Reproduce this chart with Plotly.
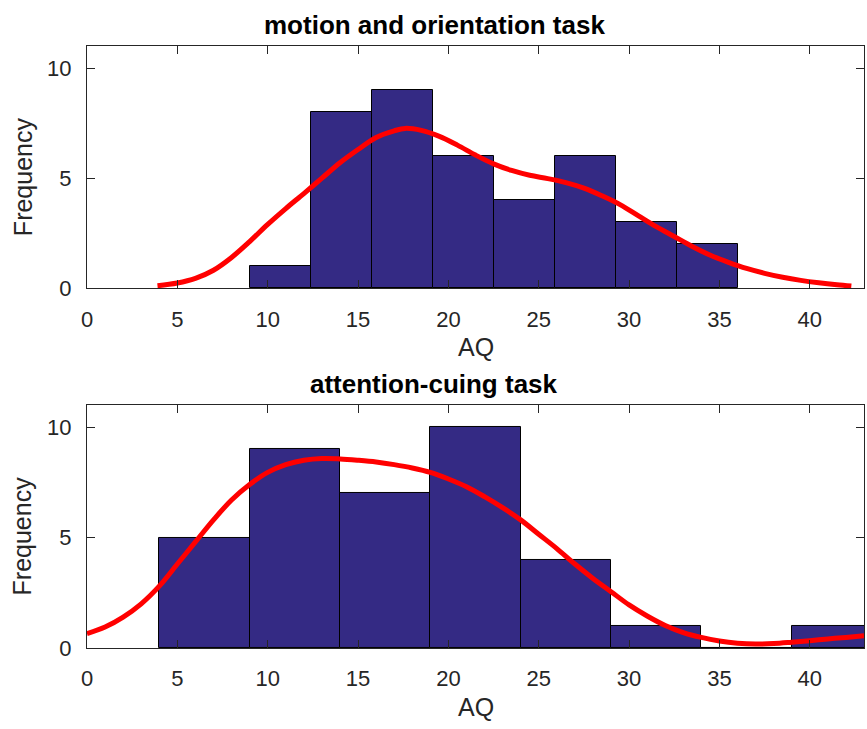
import plotly.graph_objects as go

# ---- data ----
top_title = "motion and orientation task"
bottom_title = "attention-cuing task"
x_label = "AQ"
y_label = "Frequency"

top_edges = [9.0, 12.375, 15.75, 19.125, 22.5, 25.875, 29.25, 32.625, 36.0]
top_counts = [1, 8, 9, 6, 4, 6, 3, 2]

bottom_edges = [4, 9, 14, 19, 24, 29, 34, 39, 44]
bottom_counts = [5, 9, 7, 10, 4, 1, 0, 1]

top_curve_x = [3.9, 5, 6, 7, 8, 9, 10, 11, 12, 13, 14, 15, 16, 17, 17.6, 18.5, 19.5,
               20.5, 21.5, 22.5, 23.5, 24.5, 25.5, 26.5, 27.5, 28.5, 29.5, 30.5, 31.5,
               32.5, 33.5, 34.5, 35.5, 36.5, 37.5, 38.5, 39.5, 40.5, 41.5, 42.3]
top_curve_y = [0.12, 0.24, 0.45, 0.82, 1.4, 2.12, 2.9, 3.62, 4.3, 5.0, 5.7, 6.3, 6.85, 7.15,
               7.26, 7.17, 6.9, 6.5, 6.05, 5.65, 5.35, 5.13, 4.98, 4.8, 4.55, 4.2, 3.8, 3.3,
               2.8, 2.35, 1.9, 1.5, 1.18, 0.9, 0.68, 0.5, 0.36, 0.25, 0.16, 0.1]

bottom_curve_x = [0, 1, 2, 3, 4, 5, 6, 7, 8, 9, 10, 11, 12, 13, 14, 15, 16, 17, 18, 19,
                  20, 21, 22, 23, 24, 25, 26, 27, 28, 29, 30, 31, 32, 33, 34, 35, 36, 37,
                  38, 39, 40, 41, 42, 43]
bottom_curve_y = [0.65, 0.95, 1.4, 2.0, 2.8, 3.8, 4.8, 5.8, 6.7, 7.4, 7.95, 8.3, 8.5, 8.58,
                  8.56, 8.5, 8.42, 8.3, 8.15, 7.95, 7.65, 7.3, 6.85, 6.35, 5.8, 5.15, 4.5,
                  3.8, 3.15, 2.55, 1.95, 1.45, 1.02, 0.7, 0.48, 0.32, 0.22, 0.18, 0.2, 0.26,
                  0.33, 0.41, 0.48, 0.55]

x_ticks = [0, 5, 10, 15, 20, 25, 30, 35, 40]
y_ticks = [0, 5, 10]

# ---- style ----
BAR_COLOR = "rgb(52,42,132)"
AXIS_COLOR = "#262626"
FONT = "Liberation Sans, Arial, sans-serif"

fig = go.Figure()


def add_hist(edges, counts, xa, ya):
    centers = [(edges[i] + edges[i + 1]) / 2 for i in range(len(counts))]
    widths = [edges[i + 1] - edges[i] for i in range(len(counts))]
    fig.add_trace(go.Bar(x=centers, y=counts, width=widths, xaxis=xa, yaxis=ya,
                         marker=dict(color=BAR_COLOR, line=dict(color="black", width=1)),
                         showlegend=False, hoverinfo="skip"))


def add_curve(cx, cy, xa, ya):
    fig.add_trace(go.Scatter(x=cx, y=cy, mode="lines", xaxis=xa, yaxis=ya,
                             line=dict(color="#ff0000", width=5, shape="spline"),
                             showlegend=False, hoverinfo="skip"))


add_hist(top_edges, top_counts, "x", "y")
add_curve(top_curve_x, top_curve_y, "x", "y")
add_hist(bottom_edges, bottom_counts, "x2", "y2")
add_curve(bottom_curve_x, bottom_curve_y, "x2", "y2")

top_dom = [0.5975, 1.0]
bot_dom = [0.0, 0.4037]

xaxis_common = dict(range=[0, 43], tickvals=x_ticks, ticks="inside", ticklen=8,
                    tickcolor=AXIS_COLOR, showline=True, linecolor=AXIS_COLOR, linewidth=1,
                    mirror="ticks", showgrid=False, zeroline=False,
                    tickfont=dict(family=FONT, size=22, color=AXIS_COLOR),
                    ticklabelstandoff=11)
yaxis_common = dict(range=[0, 11], tickvals=y_ticks, ticks="inside", ticklen=8,
                    tickcolor=AXIS_COLOR, showline=True, linecolor=AXIS_COLOR, linewidth=1,
                    mirror="ticks", showgrid=False, zeroline=False,
                    tickfont=dict(family=FONT, size=22, color=AXIS_COLOR),
                    ticklabelstandoff=10)

fig.update_layout(
    width=867, height=729,
    margin=dict(l=87, r=3, t=46, b=81),
    paper_bgcolor="white", plot_bgcolor="white",
    bargap=0,
    xaxis=dict(domain=[0, 1], anchor="y", **xaxis_common),
    yaxis=dict(domain=top_dom, anchor="x", **yaxis_common),
    xaxis2=dict(domain=[0, 1], anchor="y2", **xaxis_common),
    yaxis2=dict(domain=bot_dom, anchor="x2", **yaxis_common),
)

annotations = []
for title, dom in [(top_title, top_dom), (bottom_title, bot_dom)]:
    annotations.append(dict(text="<b>%s</b>" % title, xref="paper", yref="paper",
                            x=0.4466, y=dom[1], xanchor="center", yanchor="bottom",
                            yshift=4, showarrow=False,
                            font=dict(family=FONT, size=26, color="black")))
    annotations.append(dict(text=x_label, xref="paper", yref="paper",
                            x=0.5, y=dom[0], xanchor="center", yanchor="middle",
                            yshift=-59, showarrow=False,
                            font=dict(family=FONT, size=25, color=AXIS_COLOR)))
    annotations.append(dict(text=y_label, xref="paper", yref="paper",
                            x=-0.0824, y=(dom[0] + dom[1]) / 2, xanchor="center",
                            yanchor="middle", yshift=-9, textangle=-90, showarrow=False,
                            font=dict(family=FONT, size=25, color=AXIS_COLOR)))
fig.update_layout(annotations=annotations)

fig.write_html("out.html")
